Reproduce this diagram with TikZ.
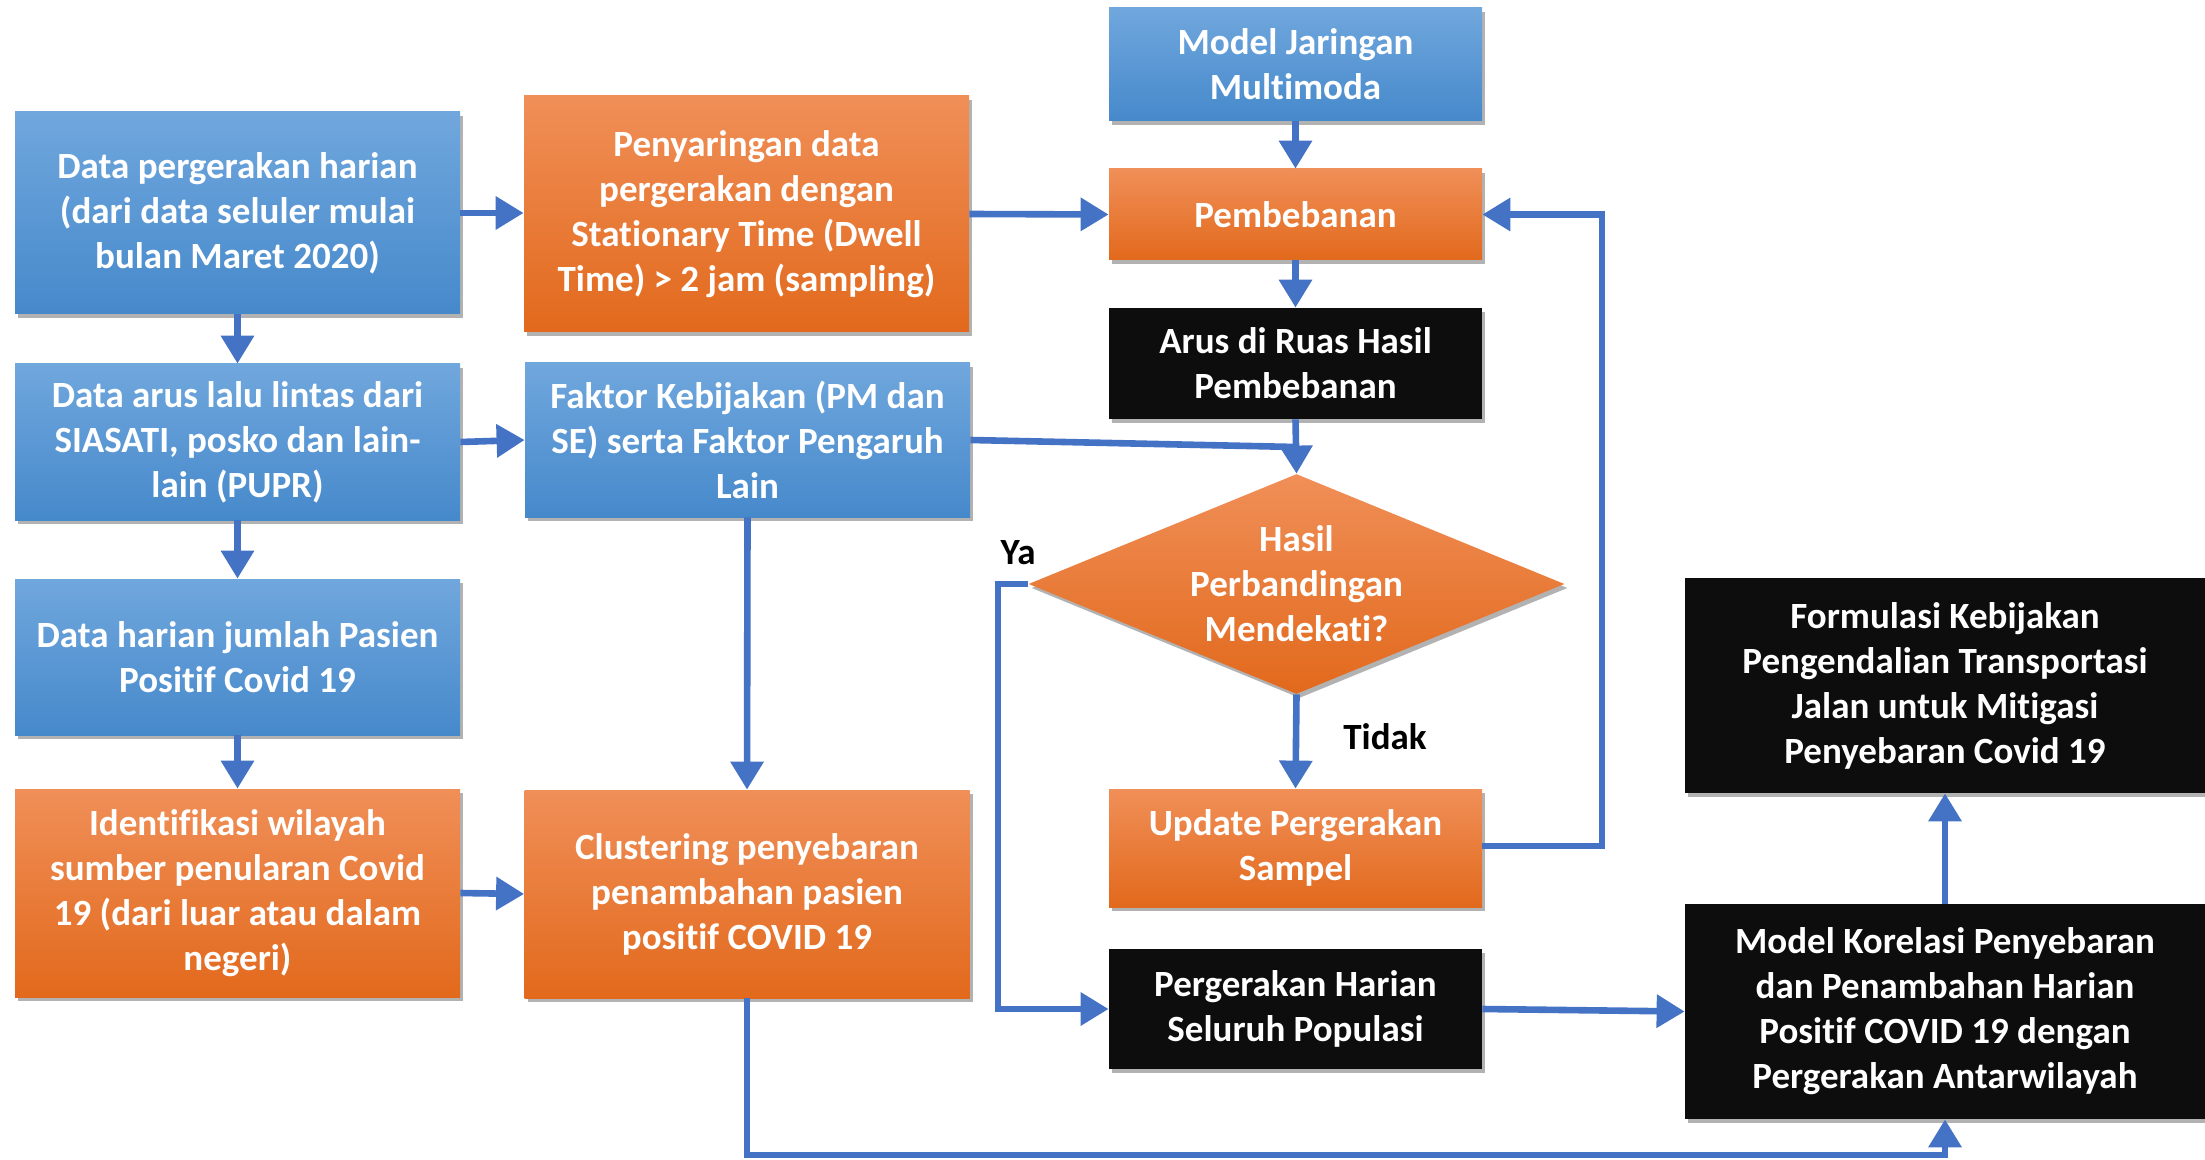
\documentclass[tikz,border=0pt]{standalone}
\usepackage{fontspec}
\setmainfont{Carlito}[Ligatures=NoCommon]
\usetikzlibrary{arrows.meta,shapes.geometric,shadows}
\definecolor{lineblue}{HTML}{4472C4}
\definecolor{blueTop}{HTML}{70A7DD}
\definecolor{blueBot}{HTML}{4689CB}
\definecolor{orTop}{HTML}{F08F58}
\definecolor{orMid}{HTML}{F37D2E}
\definecolor{orBot}{HTML}{E2691C}
\definecolor{boxblack}{HTML}{0D0D0D}
\begin{document}
\begin{tikzpicture}[x=0.5pt,y=-0.5pt,
  boxbase/.style={inner sep=0pt, align=center, text=white,
    font=\fontsize{18.5}{22.5}\selectfont\bfseries,
    drop shadow={shadow xshift=1.5pt,shadow yshift=-2pt,opacity=0.3,fill=black}},
  box/.style={boxbase, rectangle},
  bluebox/.style={box, top color=blueTop, bottom color=blueBot},
  orangebox/.style={box, top color=orTop, middle color=orMid, bottom color=orBot},
  blackbox/.style={box, fill=boxblack},
  decision/.style={boxbase, diamond, top color=orTop, middle color=orMid, bottom color=orBot},
  wide/.style={minimum width=222.5pt},
  mid/.style={minimum width=186.5pt},
  big/.style={minimum width=260pt},
  link/.style={draw=lineblue, line width=3.3pt},
  conn/.style={link, -{Triangle[width=16pt,length=14pt]}},
  lbl/.style={font=\fontsize{18.5}{22.5}\selectfont\bfseries, text=black, inner sep=0pt}
]
\useasboundingbox (0,0) rectangle (2205,1160);

\node[bluebox, wide, minimum height=101pt] (data1) at (237.5,213)
  {Data pergerakan harian\\(dari data seluler mulai\\bulan Maret 2020)};
\node[orangebox, wide, minimum height=118pt] (saring) at (746.5,214)
  {Penyaringan data\\pergerakan dengan\\Stationary Time (Dwell\\Time) > 2 jam (sampling)};
\node[bluebox, mid, minimum height=56.5pt] (model) at (1295.5,64.5)
  {Model Jaringan\\Multimoda};
\node[orangebox, mid, minimum height=45.5pt] (pemb) at (1295.5,214.5)
  {Pembebanan};
\node[blackbox, mid, minimum height=55.5pt] (arus) at (1295.5,363.5)
  {Arus di Ruas Hasil\\Pembebanan};
\node[bluebox, wide, minimum height=78pt] (data2) at (237.5,442)
  {Data arus lalu lintas dari\\SIASATI, posko dan lain-\\lain (PUPR)};
\node[bluebox, wide, minimum height=77pt] (faktor) at (747.5,440)
  {Faktor Kebijakan (PM dan\\SE) serta Faktor Pengaruh\\Lain};
\node[decision, minimum width=268pt, minimum height=110pt, aspect=2.45] (cmp) at (1296.5,584)
  {Hasil\\Perbandingan\\Mendekati?};
\node[bluebox, wide, minimum height=78pt] (data3) at (237.5,657)
  {Data harian jumlah Pasien\\Positif Covid 19};
\node[orangebox, wide, minimum height=104pt] (ident) at (237.5,893)
  {Identifikasi wilayah\\sumber penularan Covid\\19 (dari luar atau dalam\\negeri)};
\node[orangebox, wide, minimum height=104pt] (clust) at (747,894)
  {Clustering penyebaran\\penambahan pasien\\positif COVID 19};
\node[orangebox, mid, minimum height=59pt] (update) at (1295.5,848)
  {Update Pergerakan\\Sampel};
\node[blackbox, mid, minimum height=60pt] (perg) at (1295.5,1009)
  {Pergerakan Harian\\Seluruh Populasi};
\node[blackbox, big, minimum height=107.5pt] (formul) at (1945,685.5)
  {Formulasi Kebijakan\\Pengendalian Transportasi\\Jalan untuk Mitigasi\\Penyebaran Covid 19};
\node[blackbox, big, minimum height=107.5pt] (korel) at (1945,1011.5)
  {Model Korelasi Penyebaran\\dan Penambahan Harian\\Positif COVID 19 dengan\\Pergerakan Antarwilayah};

\node[lbl] (ya) at (1018,553) {Ya};
\node[lbl] (tidak) at (1385,737) {Tidak};

\coordinate (j) at (1295.5,447);
\coordinate (rtop) at (1602,214.5);
\coordinate (rbot) at (1602,846);
\coordinate (lt) at (998,584);
\coordinate (lb) at (998,1009);
\coordinate (bl) at (747,1155);
\coordinate (br) at (1945,1155);

\draw[conn] (data1.east) -- (data1.east -| saring.west);
\draw[conn] (saring.east) -- (pemb.west);
\draw[conn] (model.south) -- (pemb.north);
\draw[conn] (pemb.south) -- (arus.north);
\draw[conn] (data1.south) -- (data2.north);
\draw[conn] (data2.south) -- (data3.north);
\draw[conn] (data3.south) -- (ident.north);
\draw[conn] (data2.east) -- (faktor.west);
\draw[conn] (ident.east) -- (clust.west);
\draw[conn] (faktor.south) -- (clust.north);
\draw[link] (faktor.east) -- (j);
\draw[conn] (arus.south) -- (cmp.north);
\draw[conn] (cmp.south) -- (update.north);
\draw[conn] (update.east |- rbot) -- (rbot) -- (rtop) -- (pemb.east);
\draw[conn] (cmp.west) -- (lt) -- (lb) -- (perg.west);
\draw[conn] (perg.east) -- (korel.west);
\draw[conn] (clust.south) -- (bl) -- (br) -- (korel.south);
\draw[conn] (korel.north) -- (formul.south);
\end{tikzpicture}
\end{document}
